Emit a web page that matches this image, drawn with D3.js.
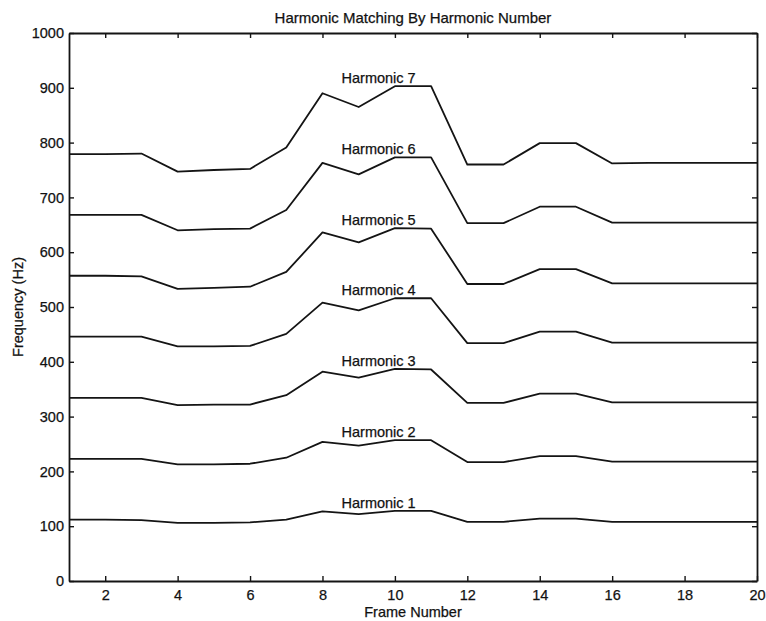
<!DOCTYPE html>
<html>
<head>
<meta charset="utf-8">
<script src="https://cdn.jsdelivr.net/npm/d3@7"></script>
<style>
  body { margin: 0; background: #fff; }
  text { font-family: "Liberation Sans", Arial, sans-serif; fill: #111; }
</style>
</head>
<body>
<div id="chart"></div>
<script>
// frame numbers along x
const frames = d3.range(1, 21);

// frequency (Hz) of each harmonic per frame
const harmonic1 = [112, 112, 111, 106, 106, 107, 112, 127, 122, 128, 128, 108, 108, 114, 114, 108, 108, 108, 108, 108];
const harmonic2 = [223, 223, 223, 213, 213, 214, 225, 254, 247, 257, 257, 217, 217, 228, 228, 218, 218, 218, 218, 218];
const harmonic3 = [334, 334, 334, 321, 322, 322, 339, 382, 371, 387, 386, 325, 325, 342, 342, 326, 326, 326, 326, 326];
const harmonic4 = [446, 446, 446, 428, 428, 429, 451, 508, 494, 516, 516, 434, 434, 455, 455, 435, 435, 435, 435, 435];
const harmonic5 = [557, 557, 556, 533, 535, 537, 564, 636, 618, 644, 643, 542, 542, 569, 569, 543, 543, 543, 543, 543];
const harmonic6 = [668, 668, 668, 640, 642, 643, 677, 763, 742, 773, 773, 653, 653, 683, 683, 654, 654, 654, 654, 654];
const harmonic7 = [779, 779, 780, 747, 750, 752, 791, 890, 865, 903, 903, 760, 760, 799, 799, 762, 763, 763, 763, 763];

const harmonics = [harmonic1, harmonic2, harmonic3, harmonic4, harmonic5, harmonic6, harmonic7];
const labels = ['Harmonic 1', 'Harmonic 2', 'Harmonic 3', 'Harmonic 4', 'Harmonic 5', 'Harmonic 6', 'Harmonic 7'];

const xTicks = [2, 4, 6, 8, 10, 12, 14, 16, 18, 20];
const yTicks = [0, 100, 200, 300, 400, 500, 600, 700, 800, 900, 1000];

const width = 766;
const height = 621;
const margin = {top: 33, right: 9, bottom: 40, left: 69};
const chartWidth = width - margin.left - margin.right;
const chartHeight = height - margin.top - margin.bottom;
const ink = '#141414';
const fontSize = 14.5;

const svg = d3.select('#chart')
  .append('svg')
    .attr('width', width)
    .attr('height', height);

const xScale = d3.scaleLinear()
    .domain([1, 20])
    .range([0, chartWidth]);

const yScale = d3.scaleLinear()
    .domain([0, 1000])
    .range([chartHeight, 0]);

const g = svg.append('g')
    .attr('transform', `translate(${margin.left},${margin.top})`);

// axes with inward ticks on all four sides
const tickLen = 5;
function styleAxis(sel) {
  sel.select('.domain').attr('stroke', ink).attr('stroke-width', 1.8);
  sel.selectAll('.tick line').attr('stroke', ink).attr('stroke-width', 1.4);
  sel.selectAll('.tick text')
      .attr('font-size', fontSize)
      .attr('fill', ink)
      .attr('stroke', ink)
      .attr('stroke-width', 0.25);
}

g.append('g')
    .attr('transform', `translate(0,${chartHeight})`)
    .call(d3.axisBottom(xScale).tickValues(xTicks).tickSizeInner(-tickLen).tickSizeOuter(0).tickPadding(9).tickFormat(d3.format('d')))
    .call(styleAxis);

g.append('g')
    .call(d3.axisTop(xScale).tickValues(xTicks).tickSizeInner(-tickLen).tickSizeOuter(0).tickFormat(''))
    .call(styleAxis);

g.append('g')
    .call(d3.axisLeft(yScale).tickValues(yTicks).tickSizeInner(-tickLen).tickSizeOuter(0).tickPadding(5).tickFormat(d3.format('d')))
    .call(styleAxis);

g.append('g')
    .attr('transform', `translate(${chartWidth},0)`)
    .call(d3.axisRight(yScale).tickValues(yTicks).tickSizeInner(-tickLen).tickSizeOuter(0).tickFormat(''))
    .call(styleAxis);

// harmonic lines
const line = d3.line()
    .x((d, i) => xScale(frames[i]))
    .y(d => yScale(d));

g.selectAll('.harmonic')
  .data(harmonics)
  .join('path')
    .attr('class', 'harmonic')
    .attr('fill', 'none')
    .attr('stroke', ink)
    .attr('stroke-width', 1.8)
    .attr('stroke-linejoin', 'round')
    .attr('d', line);

// labels above each line near frame 10
g.selectAll('.harmonic-label')
  .data(harmonics)
  .join('text')
    .attr('class', 'harmonic-label')
    .attr('x', xScale(9.55))
    .attr('y', d => yScale(d[9]) - 3)
    .attr('text-anchor', 'middle')
    .attr('font-size', fontSize)
    .attr('stroke', ink)
    .attr('stroke-width', 0.25)
    .text((d, i) => labels[i]);

// title and axis labels
svg.append('text')
    .attr('x', margin.left + chartWidth / 2)
    .attr('y', 23)
    .attr('text-anchor', 'middle')
    .attr('font-size', 15)
    .attr('stroke', ink)
    .attr('stroke-width', 0.25)
    .text('Harmonic Matching By Harmonic Number');

svg.append('text')
    .attr('x', margin.left + chartWidth / 2)
    .attr('y', 617)
    .attr('text-anchor', 'middle')
    .attr('font-size', fontSize)
    .attr('stroke', ink)
    .attr('stroke-width', 0.25)
    .text('Frame Number');

svg.append('text')
    .attr('transform', `translate(23,${margin.top + chartHeight / 2}) rotate(-90)`)
    .attr('text-anchor', 'middle')
    .attr('font-size', fontSize)
    .attr('stroke', ink)
    .attr('stroke-width', 0.25)
    .text('Frequency (Hz)');
</script>
</body>
</html>
